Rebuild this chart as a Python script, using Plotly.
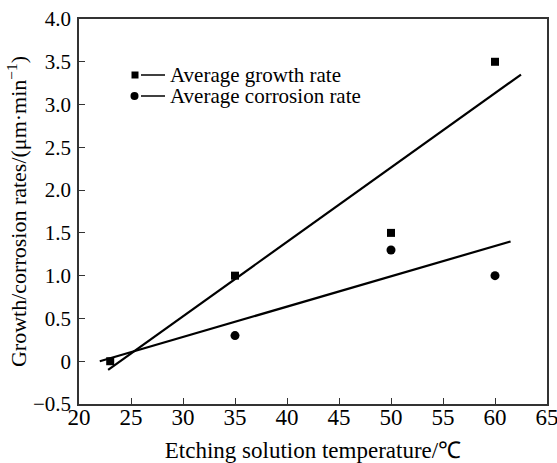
import plotly.graph_objects as go

# Data
temps = [23, 35, 50, 60]
growth_rate = [0.0, 1.0, 1.5, 3.5]
corrosion_temps = [35, 50, 60]
corrosion_rate = [0.3, 1.3, 1.0]

# Fitted lines (endpoints)
growth_fit_x = [22.8, 62.5]
growth_fit_y = [-0.1, 3.35]
corrosion_fit_x = [22.0, 61.5]
corrosion_fit_y = [0.0, 1.40]

x_ticks = [20, 25, 30, 35, 40, 45, 50, 55, 60, 65]
y_ticks = [-0.5, 0, 0.5, 1.0, 1.5, 2.0, 2.5, 3.0, 3.5, 4.0]
y_ticktext = ["\u22120.5", "0", "0.5", "1.0", "1.5", "2.0", "2.5", "3.0", "3.5", "4.0"]

FONT = "Liberation Serif"

fig = go.Figure()
fig.add_trace(go.Scatter(x=growth_fit_x, y=growth_fit_y, mode="lines",
                         line=dict(color="black", width=2.2), showlegend=False))
fig.add_trace(go.Scatter(x=corrosion_fit_x, y=corrosion_fit_y, mode="lines",
                         line=dict(color="black", width=2.2), showlegend=False))
fig.add_trace(go.Scatter(x=temps, y=growth_rate, mode="markers",
                         marker=dict(symbol="square", size=8, color="black"),
                         showlegend=False))
fig.add_trace(go.Scatter(x=corrosion_temps, y=corrosion_rate, mode="markers",
                         marker=dict(symbol="circle", size=9, color="black"),
                         showlegend=False))

# custom legend (marker, short line, text)
leg = [("Average growth rate", "square", 75), ("Average corrosion rate", "circle", 96)]
H = 463
W = 557
L, R, T, B = 79, 10, 19, 59
pw, ph = W - L - R, H - T - B
def px(x):
    return (x - L) / pw
def py(y):
    return (H - B - y) / ph
for name, sym, yc in leg:
    if sym == "square":
        fig.add_shape(type="rect", xref="paper", yref="paper",
                      x0=px(131.5), x1=px(138.5), y0=py(yc + 3.5), y1=py(yc - 3.5),
                      fillcolor="black", line=dict(width=0))
    else:
        fig.add_shape(type="circle", xref="paper", yref="paper",
                      x0=px(130.5), x1=px(138.5), y0=py(yc + 4), y1=py(yc - 4),
                      fillcolor="black", line=dict(width=0))
    fig.add_shape(type="line", xref="paper", yref="paper",
                  x0=px(141), x1=px(165), y0=py(yc), y1=py(yc),
                  line=dict(color="black", width=1.5))
    fig.add_annotation(xref="paper", yref="paper", x=px(168), y=py(yc),
                       xanchor="left", yanchor="middle", showarrow=False,
                       text=name, font=dict(family=FONT, size=21, color="black"))

fig.update_layout(
    width=W, height=H,
    margin=dict(l=L, r=R, t=T, b=B),
    plot_bgcolor="white", paper_bgcolor="white",
    font=dict(family=FONT, size=22, color="black"),
    xaxis=dict(range=[20, 65], tickvals=x_ticks, ticks="inside", ticklen=6,
               showgrid=False, zeroline=False, showline=True, linecolor="#333",
               linewidth=1.5, mirror=True, tickcolor="#333", automargin=False,
               ticklabelstandoff=-8, ticklabeloverflow="allow",
               tickfont=dict(family=FONT, size=23),
               title=dict(text="Etching solution temperature/\u2103", standoff=13,
                          font=dict(family=FONT, size=23))),
    yaxis=dict(range=[-0.5, 4.0], tickvals=y_ticks, ticktext=y_ticktext,
               ticks="inside", ticklen=6, showgrid=False, zeroline=False,
               showline=True, linecolor="#333", linewidth=1.5, mirror=True,
               tickcolor="#333", automargin=False, ticklabelstandoff=2,
               tickfont=dict(family=FONT, size=21),
               title=dict(text="Growth/corrosion rates/(\u03bcm\u00b7min<sup>\u22121</sup>)",
                          standoff=0, font=dict(family=FONT, size=22))),
)

fig.write_html("out.html", config={"displayModeBar": False},
               post_script="document.body.style.margin='0';document.body.style.padding='0';")
